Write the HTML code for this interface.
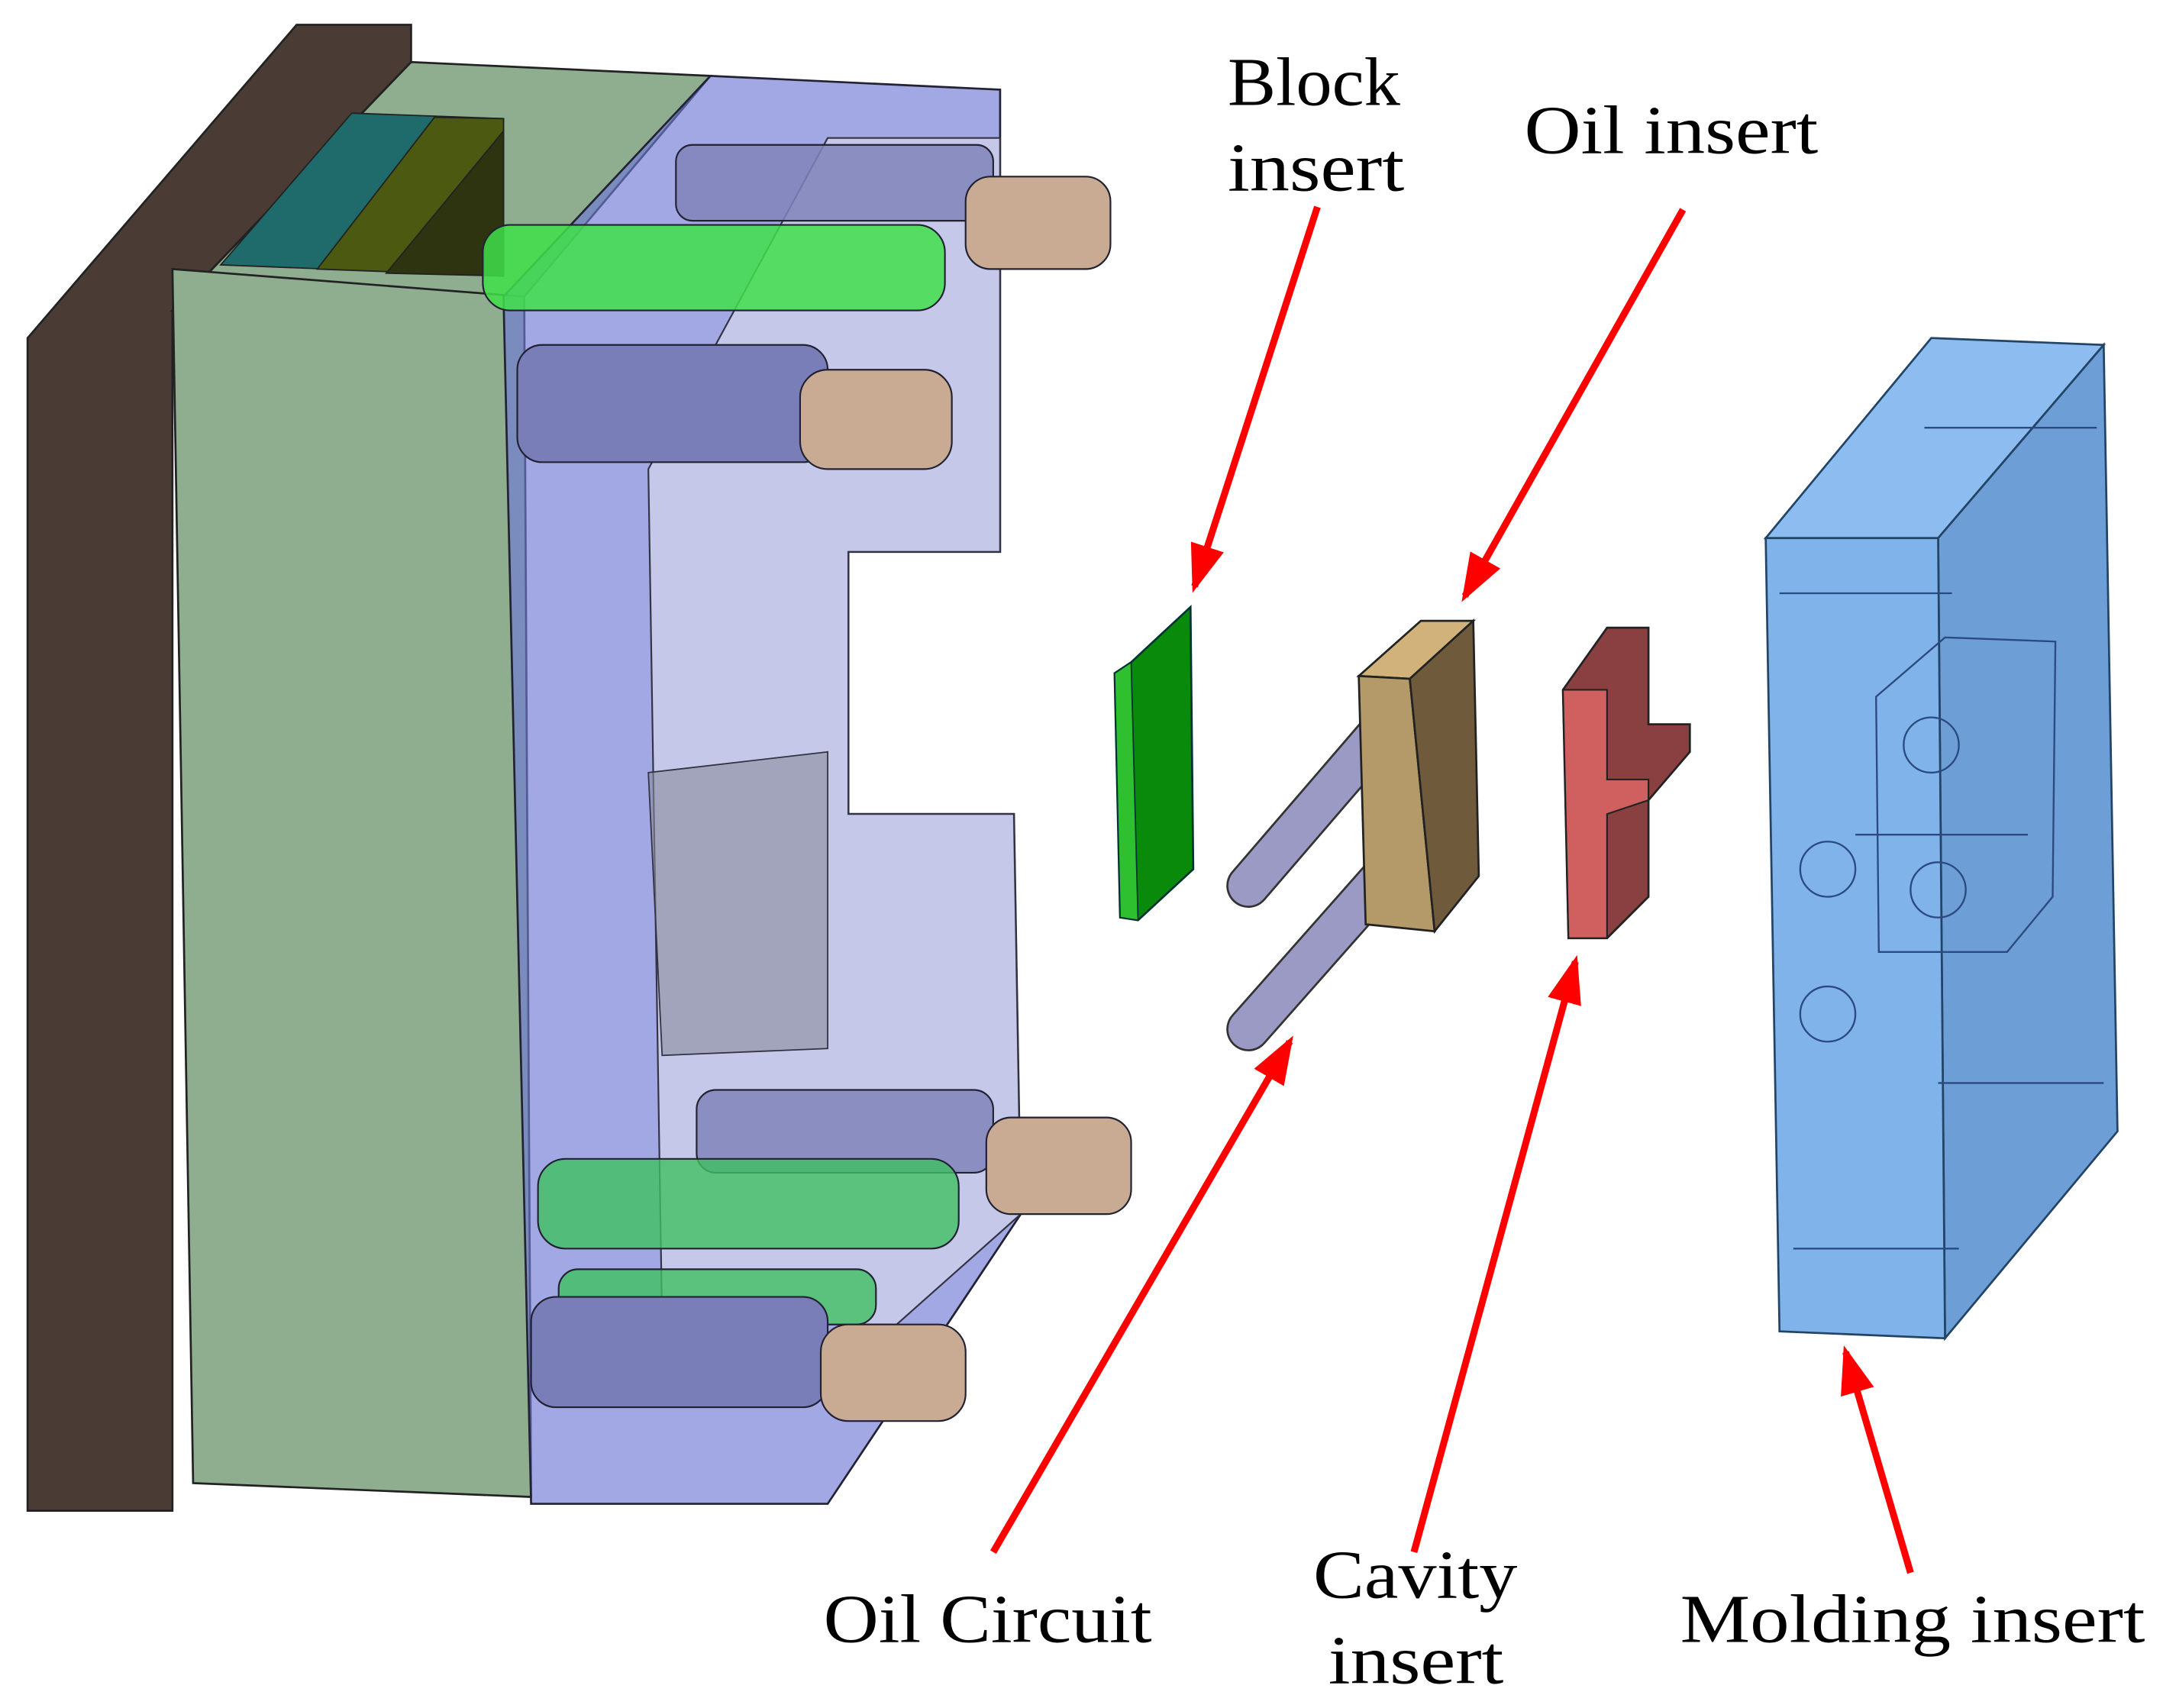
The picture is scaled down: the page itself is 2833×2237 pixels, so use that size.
<!DOCTYPE html>
<html><head><meta charset="utf-8"><style>
html,body{margin:0;padding:0;background:#fff;}
svg{display:block;}
text{font-family:"Liberation Serif",serif;font-size:50px;fill:#000;}
</style></head><body>
<svg width="2833" height="2237" viewBox="0 0 1568 1238" preserveAspectRatio="none" xmlns="http://www.w3.org/2000/svg">
<defs>
<marker id="ah" markerWidth="7" markerHeight="5" refX="6" refY="2.5" orient="auto" markerUnits="strokeWidth">
<path d="M0,0 L7,2.5 L0,5 z" fill="#f00"/>
</marker>
</defs>
<polygon points="20,245 215,18 298,18 298,45 125,225 125,1095 20,1095" fill="#4a3c34" stroke="#222" stroke-width="1.5"/>
<polygon points="125,225 298,45 515,55 380,215" fill="#8fae90" stroke="#222" stroke-width="1.5"/>
<polygon points="160,192 255,82 365,86 365,200" fill="#1f6a6a" stroke="#222"/>
<polygon points="230,195 315,85 365,86 365,200" fill="#4b5a10" stroke="#222"/>
<polygon points="280,198 365,95 365,200" fill="#2e3410" stroke="#222"/>
<polygon points="125,195 380,215 385,1085 140,1075" fill="#8fae90" stroke="#222" stroke-width="1.5"/>
<polygon points="365,215 515,55 725,65 725,400 615,400 615,590 735,590 740,880 600,1090 385,1090" fill="#6f79d6" fill-opacity="0.65" stroke="#223" stroke-width="1.5"/>
<polygon points="470,340 600,100 725,100 725,400 615,400 615,590 735,590 740,880 650,960 480,960" fill="#d4d6ea" fill-opacity="0.7" stroke="#334" stroke-width="1.2"/>
<polygon points="470,560 600,545 600,760 480,765" fill="#8a8c9c" fill-opacity="0.6" stroke="#334"/>
<g stroke="#223" stroke-width="1.2">
<rect x="490" y="105" width="230" height="55" rx="12" fill="#8084b8" fill-opacity="0.85"/>
<rect x="700" y="128" width="105" height="67" rx="18" fill="#c8ab92"/>
<rect x="350" y="163" width="335" height="62" rx="20" fill="#3fe04a" fill-opacity="0.85"/>
<rect x="375" y="250" width="225" height="85" rx="18" fill="#7a7eb8"/>
<rect x="580" y="268" width="110" height="72" rx="20" fill="#c8ab92"/>
<rect x="505" y="790" width="215" height="60" rx="14" fill="#8084b8" fill-opacity="0.85"/>
<rect x="715" y="810" width="105" height="70" rx="18" fill="#c8ab92"/>
<rect x="390" y="840" width="305" height="65" rx="20" fill="#3fc060" fill-opacity="0.8"/>
<rect x="405" y="920" width="230" height="40" rx="14" fill="#3fc060" fill-opacity="0.8"/>
<rect x="385" y="940" width="215" height="80" rx="18" fill="#7a7eb8"/>
<rect x="595" y="960" width="105" height="70" rx="20" fill="#c8ab92"/>
</g>
<polygon points="808,488 820,480 863,440 865,630 825,667 812,665" fill="#0a8a0a" stroke="#033" stroke-width="1.5"/>
<polygon points="808,488 820,480 825,667 812,665" fill="#2fc02f" stroke="#033"/>
<g stroke-linecap="round">
<line x1="905" y1="642" x2="1010" y2="520" stroke="#333" stroke-width="32"/>
<line x1="905" y1="642" x2="1010" y2="520" stroke="#9a9ac4" stroke-width="29"/>
<line x1="905" y1="746" x2="1012" y2="625" stroke="#333" stroke-width="32"/>
<line x1="905" y1="746" x2="1012" y2="625" stroke="#9a9ac4" stroke-width="29"/>
</g>
<polygon points="985,490 1030,450 1068,450 1022,492" fill="#d0b27a" stroke="#222" stroke-width="1.5"/>
<polygon points="985,490 1022,492 1040,675 990,670" fill="#b49a68" stroke="#222" stroke-width="1.5"/>
<polygon points="1022,492 1068,450 1072,635 1040,675" fill="#6f5a3c" stroke="#222" stroke-width="1.5"/>
<polygon points="1133,500 1165,455 1195,455 1195,525 1225,525 1225,545 1195,580 1195,650 1165,680 1137,680" fill="#8a4040" stroke="#222" stroke-width="1.5"/>
<polygon points="1133,500 1165,500 1165,565 1195,565 1195,580 1165,590 1165,680 1137,680" fill="#d06060" stroke="#222" stroke-width="1.2"/>
<polygon points="1280,390 1400,245 1525,250 1405,390" fill="#8dbdf0" stroke="#246" stroke-width="1.5"/>
<polygon points="1405,390 1525,250 1535,820 1410,970" fill="#6e9ed6" stroke="#246" stroke-width="1.5"/>
<polygon points="1280,390 1405,390 1410,970 1290,965" fill="#7fb3ea" stroke="#246" stroke-width="1.5"/>
<g fill="none" stroke="#2a4a80" stroke-width="1.3">
<circle cx="1325" cy="630" r="20"/><circle cx="1325" cy="735" r="20"/>
<circle cx="1400" cy="540" r="20"/><circle cx="1405" cy="645" r="20"/>
<polygon points="1360,505 1410,462 1490,465 1488,650 1455,690 1362,690"/>
<line x1="1290" y1="430" x2="1415" y2="430"/><line x1="1395" y1="310" x2="1520" y2="310"/>
<line x1="1405" y1="785" x2="1525" y2="785"/><line x1="1300" y1="905" x2="1420" y2="905"/>
<line x1="1345" y1="605" x2="1470" y2="605"/>
</g>
<g stroke="#f00" stroke-width="5" marker-end="url(#ah)">
<line x1="955" y1="150" x2="866" y2="425"/>
<line x1="1220" y1="152" x2="1062" y2="432"/>
<line x1="720" y1="1125" x2="935" y2="755"/>
<line x1="1025" y1="1125" x2="1142" y2="697"/>
<line x1="1385" y1="1140" x2="1338" y2="980"/>
</g>
<text x="890" y="76" textLength="125" lengthAdjust="spacingAndGlyphs">Block</text>
<text x="890" y="138" textLength="128" lengthAdjust="spacingAndGlyphs">insert</text>
<text x="1105" y="111" textLength="213" lengthAdjust="spacingAndGlyphs">Oil insert</text>
<text x="597" y="1190" textLength="238" lengthAdjust="spacingAndGlyphs">Oil Circuit</text>
<text x="952" y="1158" textLength="148" lengthAdjust="spacingAndGlyphs">Cavity</text>
<text x="963" y="1220" textLength="127" lengthAdjust="spacingAndGlyphs">insert</text>
<text x="1218" y="1190" textLength="337" lengthAdjust="spacingAndGlyphs">Molding insert</text>
</svg>
</body></html>
